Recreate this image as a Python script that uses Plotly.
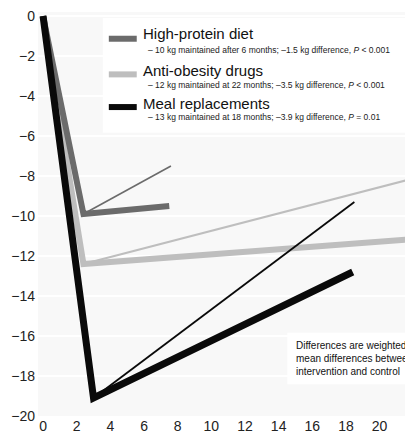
"""Weight change during weight loss and maintenance phases."""

import plotly.graph_objects as go

# months since start / weight change (kg)
hp_months = [0, 2.4, 7.5]
hp_intervention = [0, -9.9, -9.5]
hp_control_months = [2.4, 7.6]
hp_control = [-9.9, -7.5]

ao_months = [0, 2.4, 24.4]
ao_intervention = [0, -12.4, -11.0]
ao_control_months = [2.4, 24.4]
ao_control = [-12.4, -7.6]

mr_months = [0, 3.0, 18.4]
mr_intervention = [0, -19.1, -12.8]
mr_control_months = [3.0, 18.5]
mr_control = [-19.1, -9.3]

x_ticks = list(range(0, 24, 2))
y_ticks = list(range(0, -22, -2))

legend_titles = ["High-protein diet", "Anti-obesity drugs", "Meal replacements"]
legend_notes = [
    "\u2013 10 kg maintained after 6 months; \u20131.5 kg difference, <i>P</i> < 0.001",
    "\u2013 12 kg maintained at 22 months; \u20133.5 kg difference, <i>P</i> < 0.001",
    "\u2013 13 kg maintained at 18 months; \u20133.9 kg difference, <i>P</i> = 0.01",
]
note_text = ("Differences are weighted<br>mean differences between<br>"
             "intervention and control")

DARK = "#6b6b6b"
LIGHT = "#bebebe"
BLACK = "#0a0a0a"
FONT = "Liberation Sans, Arial, sans-serif"

W, H = 413, 433
L, R, T, B = 30, 0, 0, 25
PW, PH = W - L - R, H - T - B


def px(x):
    return (x - L) / PW


def py(y):
    return 1 - (y - T) / PH


fig = go.Figure()

groups = [
    (ao_months, ao_intervention, ao_control_months, ao_control, LIGHT, 6, 2),
    (hp_months, hp_intervention, hp_control_months, hp_control, DARK, 6, 1.6),
    (mr_months, mr_intervention, mr_control_months, mr_control, BLACK, 7, 1.8),
]
for months, inter, c_months, ctrl, color, w_thick, w_thin in groups:
    fig.add_trace(go.Scatter(x=c_months, y=ctrl, mode="lines",
                             line=dict(color=color, width=w_thin)))
    fig.add_trace(go.Scatter(x=months, y=inter, mode="lines",
                             line=dict(color=color, width=w_thick)))

shapes = [
    dict(type="rect", xref="paper", yref="paper", layer="between",
         x0=px(95), x1=px(413), y0=py(122), y1=py(6),
         fillcolor="white", line=dict(width=0)),
    dict(type="rect", xref="paper", yref="paper", layer="between",
         x0=px(280), x1=px(413), y0=py(376), y1=py(324),
         fillcolor="white", line=dict(width=0)),
]
annotations = []
rows = [(27, 22, 38), (63, 59, 74), (96, 92, 106)]
colors = [DARK, LIGHT, BLACK]
for (sw_y, title_y, note_y), color, title, note in zip(rows, colors, legend_titles, legend_notes):
    shapes.append(dict(type="line", xref="paper", yref="paper",
                       x0=px(101), x1=px(129), y0=py(sw_y), y1=py(sw_y),
                       line=dict(color=color, width=6)))
    annotations.append(dict(x=px(133), y=py(title_y), xref="paper", yref="paper",
                            text=title, showarrow=False, xanchor="left",
                            yanchor="middle",
                            font=dict(family=FONT, size=15, color="#111")))
    annotations.append(dict(x=px(138), y=py(note_y), xref="paper", yref="paper",
                            text=note, showarrow=False, xanchor="left",
                            yanchor="middle",
                            font=dict(family=FONT, size=8.5, color="#222")))

annotations.append(dict(x=px(287), y=py(350), xref="paper", yref="paper",
                        text=note_text, showarrow=False, xanchor="left",
                        yanchor="middle", align="left",
                        font=dict(family=FONT, size=10, color="#111")))

fig.update_layout(
    width=W, height=H,
    margin=dict(l=L, r=R, t=T, b=B),
    paper_bgcolor="white", plot_bgcolor="#f8f8f8",
    showlegend=False,
    font=dict(family=FONT, size=14, color="#222"),
    shapes=shapes, annotations=annotations,
    xaxis=dict(range=[-0.3, 22.4], tickvals=x_ticks, showgrid=False,
               zeroline=False, showline=False, ticks="", ticklabelstandoff=0,
               ticklabeloverflow="allow"),
    yaxis=dict(range=[-20, 0.2], tickvals=y_ticks, gridcolor="white",
               gridwidth=2, zeroline=False, showline=False, ticks="",
               ticklabelstandoff=2, ticklabeloverflow="allow"),
)

fig.write_html("out.html")
